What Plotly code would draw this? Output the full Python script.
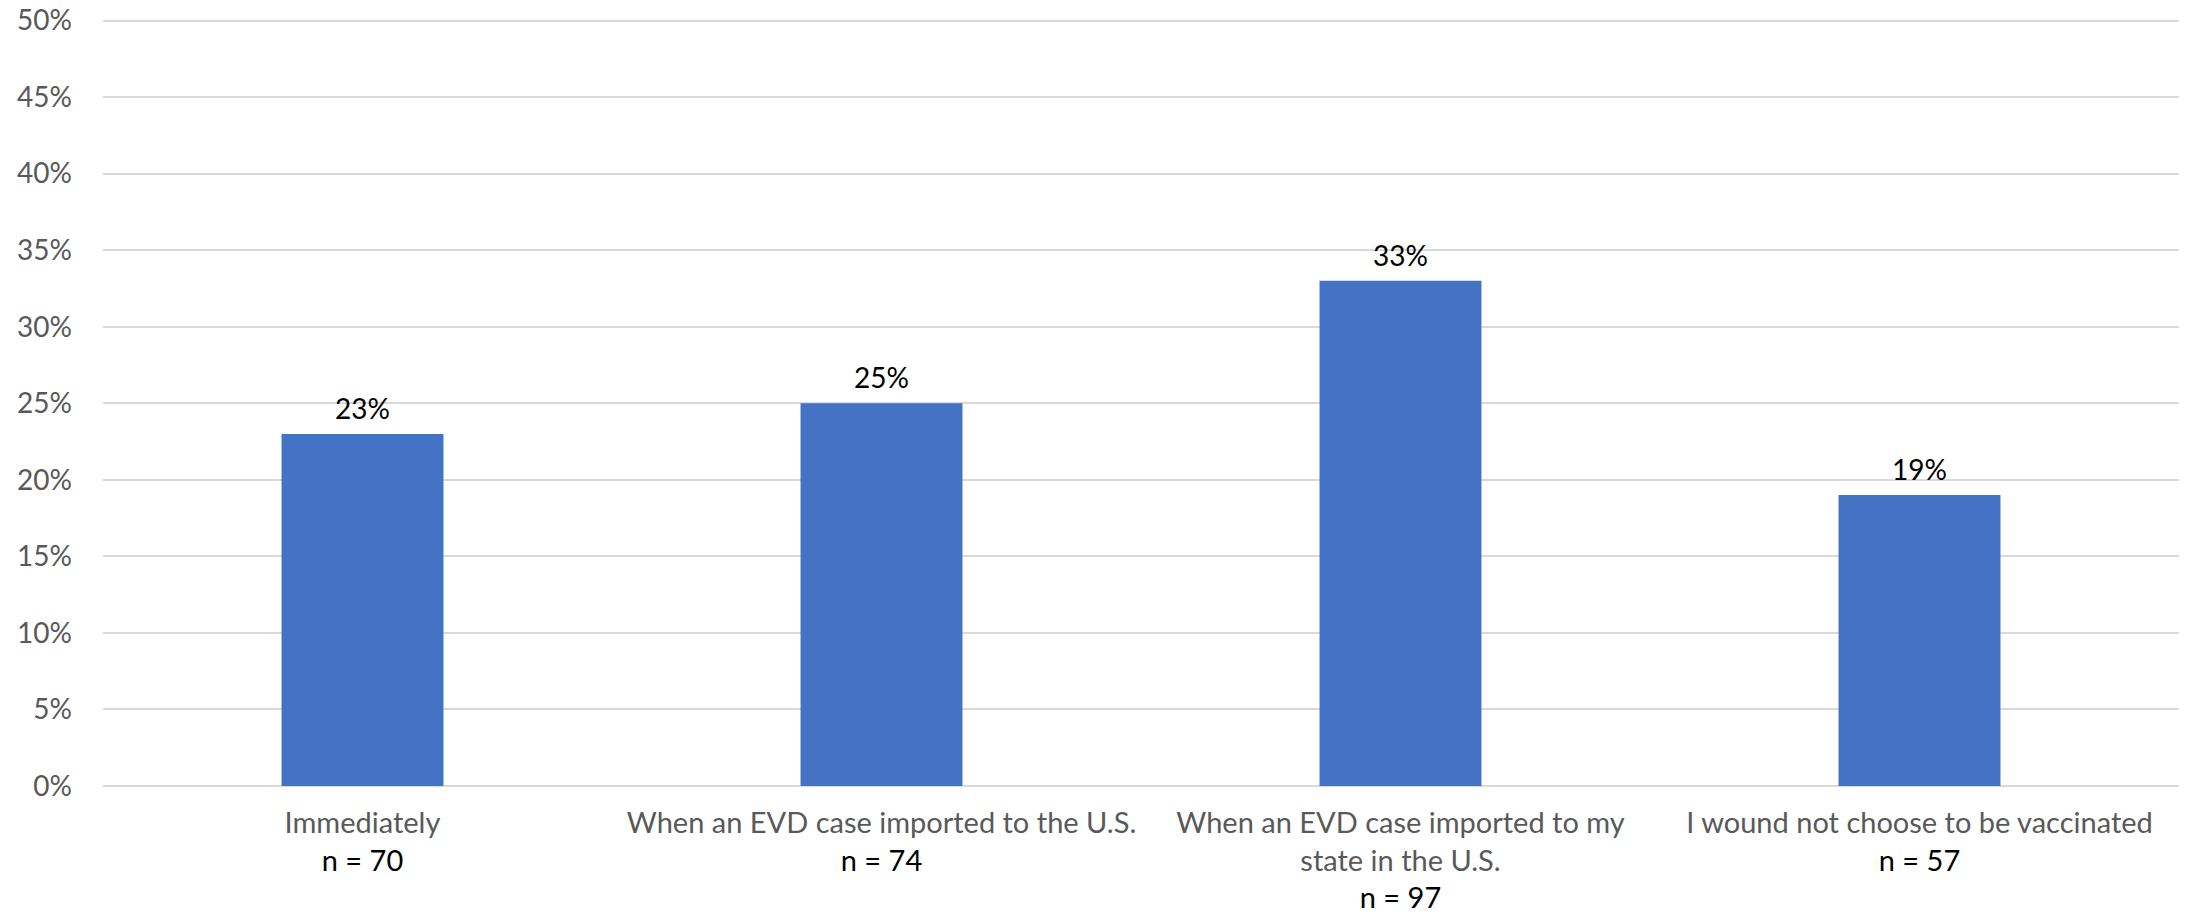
import plotly.graph_objects as go

categories = [
    "Immediately",
    "When an EVD case imported to the U.S.",
    "When an EVD case imported to my<br>state in the U.S.",
    "I wound not choose to be vaccinated",
]
n_labels = ["n = 70", "n = 74", "n = 97", "n = 57"]
values = [23, 25, 33, 19]
y_ticks = list(range(0, 55, 5))

FONT = "Lato"
ticktext = [f"{c}<br><span style='color:#000000'>{n}</span>" for c, n in zip(categories, n_labels)]
xs = list(range(len(values)))

fig = go.Figure(
    go.Bar(
        x=xs,
        y=values,
        marker=dict(color="#4472C4", line=dict(width=0)),
        hoverinfo="skip",
    )
)

for x, v in zip(xs, values):
    fig.add_annotation(
        x=x, y=v, text=f"{v}%", showarrow=False,
        yanchor="middle", yshift=26,
        font=dict(family=FONT, size=28, color="#000000"),
    )

fig.update_layout(
    width=2191,
    height=916,
    margin=dict(l=103, r=12, t=19, b=130, autoexpand=False),
    paper_bgcolor="white",
    plot_bgcolor="white",
    bargap=0.688,
    showlegend=False,
    font=dict(family=FONT, size=29, color="#595959"),
)
fig.update_xaxes(
    range=[-0.5, 3.5],
    tickmode="array",
    tickvals=xs,
    ticktext=ticktext,
    tickfont=dict(family=FONT, size=29, color="#595959"),
    showgrid=False,
    zeroline=False,
    showline=False,
    ticks="",
    automargin=False,
    ticklabelstandoff=17,
)
fig.update_yaxes(
    range=[0, 50.1],
    tickmode="array",
    tickvals=y_ticks,
    ticktext=[f"{t}%" for t in y_ticks],
    tickfont=dict(family=FONT, size=28, color="#595959"),
    showgrid=True,
    gridcolor="#D9D9D9",
    gridwidth=1.5,
    zeroline=True,
    zerolinecolor="#D9D9D9",
    zerolinewidth=1.5,
    ticks="",
    automargin=False,
    ticklabelstandoff=30,
)

fig.write_html(
    "out.html",
    config={"displayModeBar": False},
    post_script="document.body.style.margin='0';document.body.style.overflow='hidden';",
)
